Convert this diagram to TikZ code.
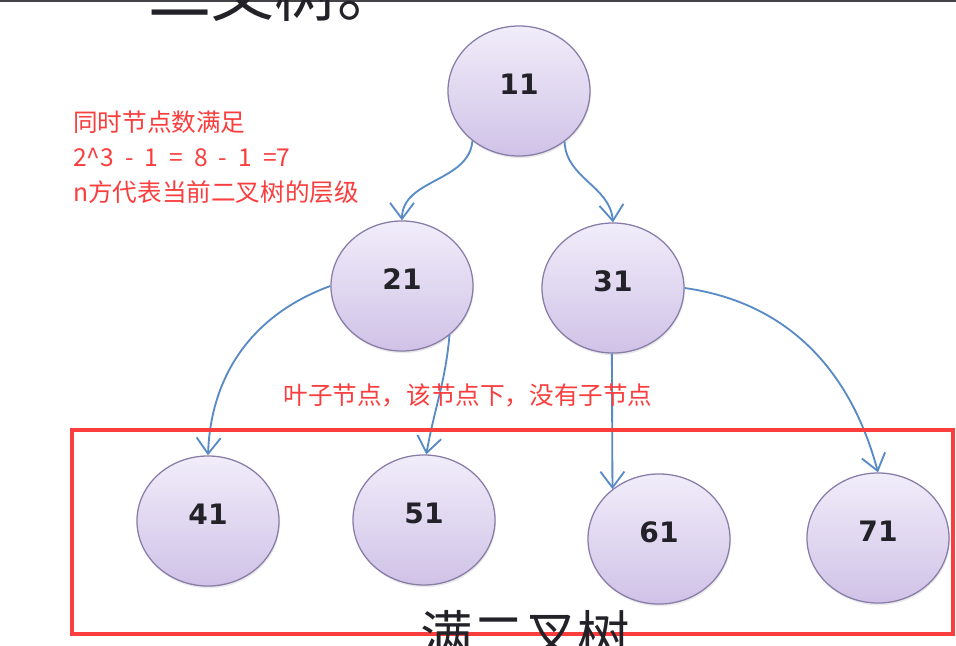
\documentclass[tikz,border=0pt]{standalone}
\usepackage{fontspec}
\usepackage{xcolor}
\usepackage{tikz}
\usetikzlibrary{arrows.meta,shapes.geometric,shadows}
\newfontfamily\cjkfont{Noto Sans CJK SC}
\newfontfamily\numfont{DejaVu Sans}
\definecolor{nodetop}{RGB}{241,237,250}
\definecolor{nodebot}{RGB}{208,194,231}
\definecolor{nodeedge}{RGB}{136,124,168}
\definecolor{linkblue}{RGB}{88,138,198}
\definecolor{notered}{RGB}{250,62,62}
\definecolor{inkgray}{RGB}{34,34,40}

\begin{document}
\begin{tikzpicture}[
    x=0.025cm, y=-0.025cm,
    tnode/.style  = {ellipse, draw=nodeedge, line width=0.9pt,
                     top color=nodetop, bottom color=nodebot,
                     minimum width=3.55cm, minimum height=3.25cm,
                     text height=0.52cm, text depth=0.36cm, inner sep=0pt,
                     font=\numfont\bfseries\fontsize{20}{24}\selectfont\color{inkgray},
                     drop shadow={opacity=0.18, shadow xshift=0.6pt, shadow yshift=-1.5pt}},
    arr/.style    = {-{Straight Barb[length=0.4cm, width=0.6cm]}, line width=1.3pt, draw=linkblue},
    note/.style   = {font=\cjkfont\fontsize{17.5}{24.8}\selectfont, text=notered,
                     inner sep=0pt, align=left},
    bigtext/.style= {font=\cjkfont\fontsize{44.8}{50}\selectfont, text=inkgray, inner sep=0pt},
    redframe/.style = {draw=notered, line width=2.2pt}
  ]
    \useasboundingbox (0,0) rectangle (956,646);
    \clip (0,0) rectangle (956,646);
    \fill[white] (0,0) rectangle (956,646);
    \draw[line width=1.5pt, draw=inkgray!85] (0,1) -- (956,1);

    \node[bigtext, anchor=base west] (toptitle) at (148,16) {二叉树。};

    \node[tnode] (n11) at (519,91)  {11};
    \node[tnode] (n21) at (402,286) {21};
    \node[tnode] (n31) at (613,288) {31};
    \node[tnode] (n41) at (208,521) {41};
    \node[tnode] (n51) at (424,520) {51};
    \node[tnode] (n61) at (659,539) {61};
    \node[tnode] (n71) at (878,538) {71};

    \draw[arr] (n11.-133) to[out=-95, in=90]  (n21.north);
    \draw[arr] (n11.-48)  to[out=-88, in=95]  (n31.north);
    \draw[arr] (n21.west) to[out=200, in=88]  (n41.north);
    \draw[arr] (n21.-46)  to[out=-95, in=80]  (n51.88);
    \draw[arr] (n31.-91)  --                  (n61.133);
    \draw[arr] (n31.east) to[out=-8,  in=105] (n71.north);

    \node[note, anchor=west] (rule) at (73,157)
      {同时节点数满足\\2\textasciicircum 3~ - ~1~ = ~8~ - ~1~ =7\\n方代表当前二叉树的层级};
    \node[note] (leaf) at (468,395) {叶子节点，该节点下，没有子节点};

    \draw[redframe] (72,430) rectangle (953,634);
    \node[bigtext, anchor=base west, font=\cjkfont\fontsize{37.3}{42}\selectfont] (bottitle) at (420,654) {满二叉树};
  \end{tikzpicture}
\end{document}
